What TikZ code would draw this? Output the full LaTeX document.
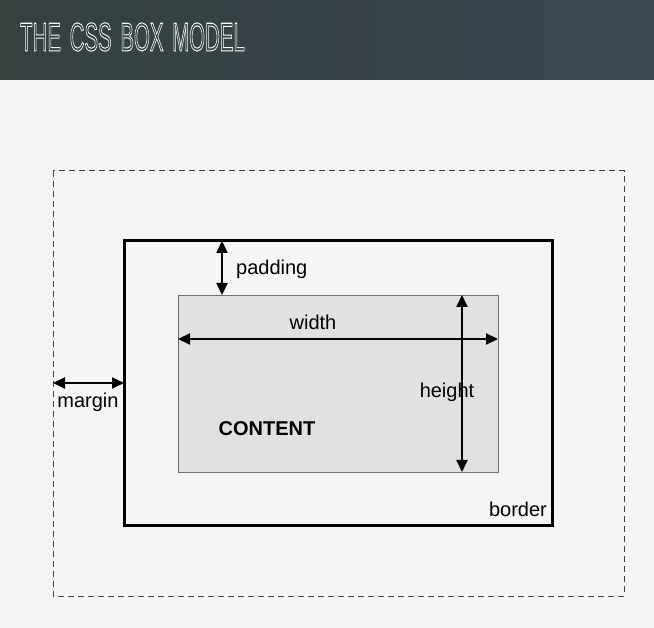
\documentclass[tikz,border=0pt]{standalone}
\usepackage{fontspec}
\setmainfont{Liberation Sans}
\usetikzlibrary{arrows.meta}
\definecolor{barL}{HTML}{34413F}
\definecolor{barR}{HTML}{3B4753}
\definecolor{bg}{HTML}{F5F5F5}
\definecolor{contentfill}{HTML}{E1E1E1}
\definecolor{contentline}{HTML}{707070}
\tikzset{
  dim/.style={line width=2pt,{Triangle[length=12pt,width=11pt]}-{Triangle[length=12pt,width=11pt]}},
  lbl/.style={font=\fontsize{20}{23}\selectfont,inner sep=0pt,text=black},
}
\begin{document}
\begin{tikzpicture}[x=1pt,y=-1pt]
\useasboundingbox (0,0) rectangle (654,628);
\fill[bg] (0,0) rectangle (654,628);
\shade[left color=barL,right color=barR] (0,0) rectangle (654,80);
\node[anchor=west,inner sep=0pt] (title) at (20,37)
  {\scalebox{0.51}[1]{\fontsize{40}{44}\selectfont\special{pdf:literal direct 1 Tr 1 w 1 1 1 RG}THE\hspace{6pt} CSS\hspace{6pt} BOX\hspace{6pt} MODEL\special{pdf:literal direct 0 Tr}}};
% margin box
\draw[line width=1pt,dash pattern=on 6pt off 4pt,black!75] (53,171) rectangle (624,596);
\coordinate (mL) at (53,383);
% border box
\draw[line width=3pt] (124,241) rectangle (552,525);
\coordinate (bL) at (124,383);
\coordinate (bT) at (222,241);
% content
\draw[fill=contentfill,draw=contentline,line width=0.8pt] (178,295) rectangle (498,472);
\coordinate (cT) at (222,295);
\coordinate (wL) at (178,339);
\coordinate (wR) at (498,339);
\coordinate (hT) at (462,295);
\coordinate (hB) at (462,472);
% arrows
\draw[dim] (bT) -- (cT);
\draw[dim] (wL) -- (wR);
\draw[dim] (hT) -- (hB);
\draw[dim] (mL) -- (bL);
% labels
\node[lbl,anchor=west] (padding) at (236,269) {padding};
\node[lbl] (width) at (313,322) {width};
\node[lbl] (height) at (447,392) {height};
\node[lbl] (margin) at (88,402) {margin};
\node[lbl,font=\fontsize{20}{23}\selectfont\bfseries] (content) at (267,429) {CONTENT};
\node[lbl] (border) at (518,509) {border};
\end{tikzpicture}
\end{document}
